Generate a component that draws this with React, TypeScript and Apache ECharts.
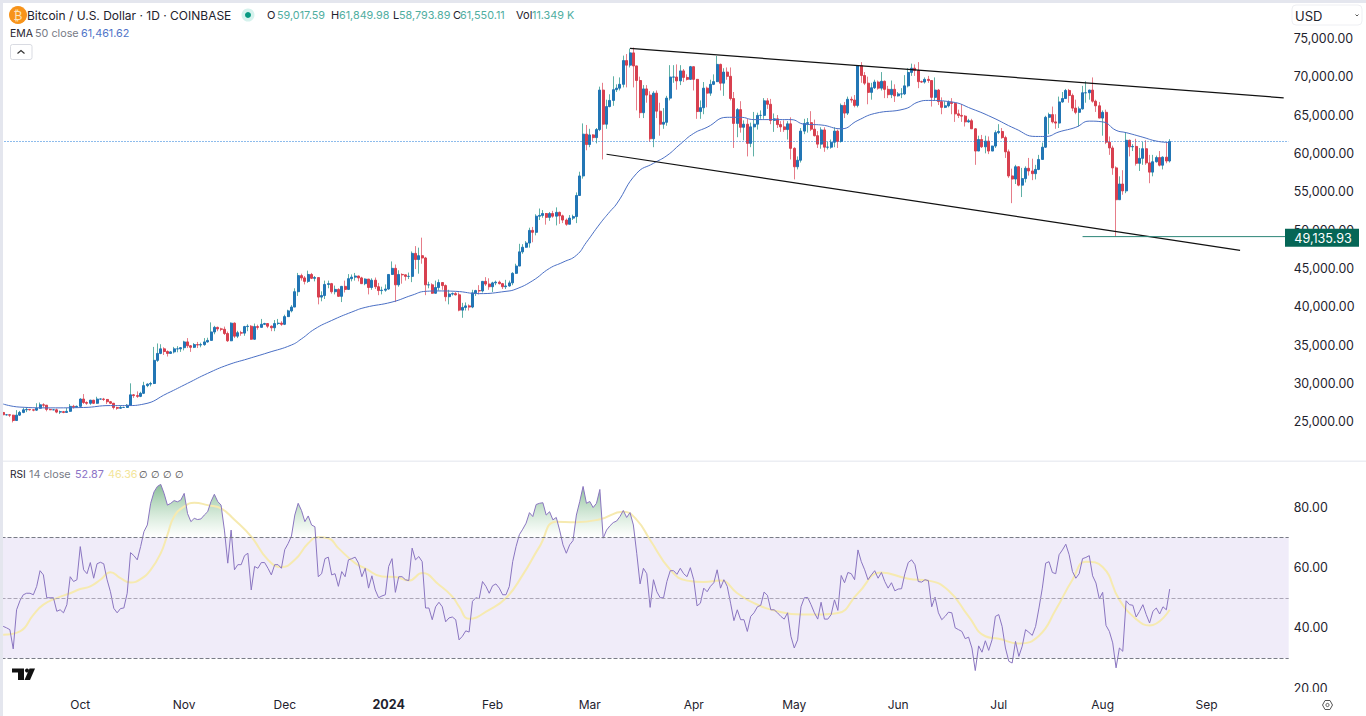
import React, { useEffect, useRef } from "react";
import * as echarts from "echarts";

const FIRST_DAY = Date.UTC(2023, 8, 8);
const DAY_COUNT = 384;
const firstOpen = 26.2;

// Daily closes, in thousands of USD, Sep 8 2023 .. Aug 21 2024
const closes = [
  25.9,25.9,25.85,25.15,25.85,26.2,26.55,26.6,26.55,26.5,26.75,27.2,27.15,26.6,26.55,26.55,26.25,26.3,26.2,26.35,27.0,26.9,27.0,
  27.95,27.5,27.4,27.8,27.4,27.95,27.95,27.9,27.6,27.4,26.85,26.75,26.85,26.85,27.15,28.5,28.4,28.3,28.7,29.7,29.9,29.98,33.0,33.9,34.5,34.15,33.9,34.1,34.5,34.5,34.65,
  35.4,34.9,34.7,35.05,35.0,35.05,35.4,35.6,36.7,37.3,37.1,37.05,36.5,35.55,37.85,36.15,36.6,36.55,37.4,37.45,35.75,37.4,37.3,37.7,37.8,37.45,37.25,37.8,37.85,37.7,
  38.7,39.45,39.95,41.95,44.05,43.75,43.3,44.2,43.7,43.8,41.25,41.45,42.9,43.0,41.95,42.25,41.35,42.65,42.25,43.65,43.85,44.0,43.75,43.0,43.6,42.5,43.45,42.6,42.1,42.15,42.3,
  44.2,45.0,42.85,44.2,44.15,43.95,43.95,46.95,46.15,46.65,46.35,42.85,42.85,41.75,42.5,43.15,42.75,41.3,41.65,41.7,41.55,39.55,39.9,40.1,39.95,41.8,42.1,42.05,43.3,42.95,42.6,
  43.1,43.2,43.0,42.6,42.7,43.1,44.35,45.3,47.15,47.75,48.3,49.95,49.7,51.8,51.9,52.15,51.65,52.15,51.8,52.3,51.85,51.3,50.75,51.55,51.75,54.5,57.05,62.5,61.15,
  62.4,62.05,63.1,68.25,63.8,66.1,66.9,68.3,68.5,69.0,72.1,71.5,73.1,71.4,69.5,65.3,68.4,67.6,61.9,67.85,65.5,63.8,64.05,67.2,69.95,69.95,69.45,70.75,69.9,69.65,71.3,
  69.65,65.45,65.95,68.5,67.85,69.0,69.35,71.6,69.15,70.6,70.05,67.15,63.9,65.7,63.4,63.8,61.3,63.45,63.8,64.95,64.95,66.85,66.4,64.3,64.5,63.75,63.45,63.1,63.85,60.65,
  58.25,59.1,62.9,63.9,64.0,63.15,62.3,61.2,63.05,60.8,60.8,61.45,62.9,61.55,66.25,65.25,67.05,66.95,66.25,71.45,70.15,69.15,67.95,68.55,69.3,68.5,69.4,68.35,67.65,68.35,67.5,
  67.75,67.75,68.8,70.55,71.1,70.8,69.35,69.3,69.65,69.5,67.3,68.25,66.75,66.0,66.2,66.65,66.5,65.15,64.95,64.85,64.1,64.25,63.2,60.3,61.8,60.85,61.6,60.3,60.95,62.7,
  62.85,62.05,60.2,57.05,56.65,58.25,55.85,56.7,58.05,57.7,57.35,57.9,59.2,60.8,64.7,65.05,64.1,63.95,66.7,67.15,68.2,67.55,65.9,65.35,65.8,67.9,67.9,68.25,66.8,66.2,64.6,
  65.35,61.45,60.7,58.1,53.95,56.0,55.1,61.7,60.85,60.9,58.7,59.35,60.6,58.75,57.55,58.9,59.45,58.45,59.5,59.0,61.55,
];
const highs = [
  26.45,25.95,25.95,25.9,26.5,26.4,26.8,26.85,26.65,26.6,27.4,27.5,27.4,27.15,26.7,26.65,26.7,26.45,26.4,26.8,27.3,27.2,27.1,
  28.05,28.6,27.65,27.85,27.85,28.25,28.0,28.1,27.95,27.7,27.45,26.95,27.1,26.95,27.3,30.0,28.6,28.95,28.9,30.2,30.0,30.2,34.75,35.2,35.1,34.7,34.3,34.2,34.75,34.85,34.7,
  35.55,35.9,35.0,35.25,35.4,35.3,35.9,35.95,37.95,37.5,37.4,37.25,37.4,36.75,37.95,37.95,36.85,36.85,37.5,37.7,37.6,37.8,37.65,38.4,37.9,37.8,37.55,38.25,38.4,38.1,
  38.95,39.6,40.2,42.4,44.4,44.3,44.0,44.7,44.4,44.0,43.8,42.0,43.4,43.4,43.1,42.75,42.4,42.7,43.4,44.25,44.2,44.4,44.05,43.9,43.7,43.6,43.7,43.8,43.1,42.6,42.9,
  44.2,45.9,45.5,44.75,44.35,44.2,44.45,47.2,47.9,47.7,49.0,46.5,43.25,43.05,43.4,43.55,43.2,42.9,42.2,41.85,41.9,41.85,40.5,40.55,40.3,42.2,42.2,42.8,43.3,43.85,43.7,
  43.25,43.4,43.4,43.1,43.5,43.4,44.5,45.6,48.2,48.15,48.55,50.3,50.4,52.05,52.8,52.6,52.2,52.35,52.5,52.95,52.4,52.0,51.5,51.95,52.0,54.9,57.6,63.9,63.7,
  63.2,62.5,63.3,68.7,69.2,67.0,67.7,70.05,69.0,69.9,72.75,72.95,73.65,73.8,71.4,70.0,68.9,68.9,68.1,68.1,68.2,66.6,65.9,67.5,71.5,71.5,71.6,71.5,71.0,70.3,71.4,
  71.3,69.7,66.9,69.3,68.7,69.6,70.3,72.7,71.7,71.1,71.2,71.2,68.0,65.9,66.8,64.3,64.5,64.0,65.4,65.3,65.6,67.2,67.2,67.1,65.2,65.0,64.2,64.3,64.2,64.7,
  60.8,59.6,63.3,64.5,64.6,65.5,64.4,62.9,63.4,63.4,61.5,61.8,63.4,63.1,66.5,66.7,67.4,67.4,67.6,71.5,71.9,70.6,70.0,69.2,69.6,69.5,70.6,69.5,68.8,69.5,69.0,
  68.0,68.5,70.2,71.1,71.7,71.6,71.9,69.5,69.9,70.1,69.5,69.9,68.4,67.3,66.8,66.9,67.2,66.6,65.7,66.4,65.0,64.5,64.5,63.3,62.3,62.4,62.3,62.2,61.0,63.0,
  63.8,63.3,62.3,60.5,58.0,58.5,58.3,58.1,58.3,59.4,59.3,58.5,59.8,61.4,64.9,65.3,66.1,65.1,67.4,68.0,68.4,68.4,67.8,67.0,66.1,68.8,69.4,68.3,69.9,67.0,66.7,
  65.6,65.7,62.2,61.0,58.3,57.0,57.8,62.7,61.8,61.2,61.9,60.7,61.5,61.7,59.8,59.8,59.7,60.3,59.6,61.4,61.85,
];
const lows = [
  25.65,25.8,25.6,24.9,25.1,25.75,26.1,26.25,26.45,26.35,26.4,26.7,26.85,26.35,26.5,26.5,26.1,26.0,26.1,26.15,26.3,26.7,26.85,
  26.95,27.3,27.2,27.2,27.3,27.35,27.9,27.7,27.3,27.3,26.6,26.55,26.7,26.8,26.85,27.1,28.1,28.1,28.2,28.6,29.5,29.6,29.9,32.8,33.8,33.7,33.5,33.85,33.9,34.05,34.1,
  34.3,34.6,34.1,34.6,34.6,34.7,34.9,35.3,35.6,36.4,36.8,36.8,36.3,35.4,35.5,35.9,35.9,36.2,36.2,36.8,35.7,35.7,37.0,37.6,37.6,37.2,36.8,36.8,37.6,37.5,
  37.6,38.65,39.25,39.95,41.4,43.4,42.9,43.1,43.6,43.3,40.3,40.7,41.0,42.4,41.7,41.6,41.3,40.6,41.85,42.2,43.3,43.4,43.3,43.0,42.8,41.6,42.2,42.3,41.5,41.6,41.95,
  42.2,44.2,40.6,42.6,43.0,43.4,43.6,43.2,44.9,44.3,45.6,41.5,42.4,41.7,41.7,42.1,42.2,40.7,40.3,41.45,41.45,39.4,38.55,39.5,39.5,39.8,41.4,41.6,41.85,42.7,42.2,
  41.9,42.8,42.9,42.3,42.3,42.6,42.8,44.3,45.3,46.9,47.7,47.7,48.4,49.3,51.3,51.6,50.7,51.2,51.6,50.6,50.8,50.9,50.55,50.95,51.3,50.9,54.5,56.7,60.4,
  60.8,61.6,61.3,62.9,59.2,63.2,66.0,66.2,68.0,68.2,68.6,68.6,71.2,68.6,65.6,64.6,64.6,66.6,61.5,60.8,64.6,62.3,63.2,63.6,66.9,69.2,68.3,68.9,69.3,69.5,69.6,
  68.2,64.5,64.5,65.1,66.0,67.5,68.9,69.3,68.2,67.5,69.6,66.9,60.7,62.1,62.7,61.7,59.6,60.8,59.6,63.1,64.5,64.5,65.8,63.8,62.8,63.3,62.8,62.8,61.8,59.2,
  56.6,57.9,58.8,62.5,62.7,62.9,62.2,60.7,60.6,60.2,60.5,60.6,60.8,60.7,61.4,64.6,65.0,66.6,66.0,66.0,69.2,68.9,66.4,67.0,68.4,68.3,68.2,67.2,67.2,67.2,66.7,
  67.4,67.2,67.6,68.6,70.1,70.1,68.5,69.2,69.1,69.2,66.1,66.9,66.3,65.1,65.9,66.0,65.1,64.1,64.6,64.1,63.5,64.0,63.2,58.5,60.7,60.7,60.0,59.9,60.3,60.7,
  62.5,61.9,59.4,56.8,53.5,56.0,55.7,54.3,56.2,57.1,56.5,56.6,57.8,59.4,60.7,62.5,63.9,63.2,63.3,66.6,67.4,66.6,65.5,65.1,63.5,65.7,66.6,67.0,66.6,65.4,64.6,
  62.3,61.2,59.8,57.2,49.136,54.0,54.6,54.8,59.6,60.3,58.4,57.7,58.5,58.5,56.1,57.0,58.8,58.3,57.9,58.7,58.8,
];

// EMA 50 line: day index and value in thousands
const emaDays = [0,5,14,24,32,37,42,49,55,61,67,73,79,86,89,93,98,104,108,116,122,126,130,135,142,150,153,158,163,167,171,174,178,181,183,189,194,198,202,206,210,216,220,224,230,235,239,244,250,255,260,269,273,276,283,289,295,302,308,311,315,320,324,328,332,335,340,344,348];
const emaValues = [27.3,26.9,26.8,26.85,27.1,27.1,27.3,28.7,30,31.3,32.4,33.2,34,35,35.8,37.1,38.2,39.3,39.9,40.6,41.5,42,42.05,42,41.7,42,42.3,43.4,45,45.8,46.7,48.4,50.8,52.4,53.4,57.4,58.7,59.7,61.2,62.6,63.4,64.7,64.7,64.4,64.4,64.4,63.8,63.7,63.2,64.3,65.2,65.8,66.7,66.9,66.7,65.8,64.7,63.2,62.2,62.2,62.8,63.4,64.2,64.1,63,62.7,62.1,61.6,61.4];

// RSI 14, one value a day
const rsiValues = [
  40.5,40,39.4,33,46,49,51,51.5,51.5,51,53.8,59,57.6,50,50,50,45.5,46,45,47.7,57,55.4,56,67,59.3,58,61.7,56.5,61.3,61.8,61.3,56,52,46.5,45,46.4,46.6,51.5,65,64,
  62.6,67,72,74.2,81.4,85.2,87,87.7,84.7,80.8,81.4,82.3,81.9,82.5,84.7,78,75.3,76.4,76,76.2,77.5,78.6,82,84.4,82,80.8,72.5,61.5,72.5,59.3,61,61,64,64.8,52.6,60.4,59.8,61.7,61.7,59.8,
  57.6,61,61,59.8,66,68,70.5,77.5,81.4,79,75.3,77.2,74.2,73.6,57,58,63,63.5,57.6,58,53.8,58.7,57,62.6,63,63.5,61.5,57,59.8,53.2,57.3,52.6,50,50.6,51,60.4,63,51.8,57,57,
  56,55.7,66.5,62.6,63.7,62,46.6,46.6,42.7,47,48.5,47,42,43.3,43.6,42.7,36,37.2,39,38.6,48.8,50,49.7,55.4,53.8,51.5,54,54.6,53.2,51,51,53.8,62,67,71,72.8,74.8,78.3,77,81,
  81.4,81.6,77.5,78.6,75.9,76.7,72.5,67.6,64.8,67.6,69,77.5,82,87,81.4,82,80,81.4,86,69.8,72.5,73.9,75,75.5,77,79,76.7,78.3,74.2,64.8,54.6,59.8,58,46.8,56,52,50,50,55.4,59,
  59,57.8,59.8,58,57,60,56,47.3,48.2,53.2,52,53.8,55,59.3,53.2,56,53.8,48.2,42.4,46,42.7,42.7,38.8,43.8,45,47,47.5,51.9,50.8,46,46,45,43.8,42.9,45,37.2,33.3,36,47,50,
  50.1,47.7,45,42.9,48.5,42.9,42.9,44.4,49.3,45.8,57.4,55,58.4,58,56,65.9,62,59.3,56,57.6,59,56.5,58.4,55.4,53.2,55,52.3,52.9,53,58,61.7,62.6,61,55.4,55.2,56,55.7,47,50.2,45,
  42.7,43.8,45.2,45,40,39.4,38.8,36.4,36.9,33.3,25.8,34,31.9,35.7,32.5,36,43.8,44.4,40.5,33.3,28.9,28.3,35.5,30.5,33.9,39.4,38.5,37.5,40.5,46.6,53.2,61.5,62,58.4,58,64.3,65.9,67.8,64.3,58.7,
  56.5,58,63,63.4,64,57.3,54.9,49.6,51.8,40.8,38.8,35,26.7,33.3,32.2,49,47.7,47.5,43.6,45.5,47.7,44.4,41.6,45.5,46.6,44.6,47,46,52.9,
];

// RSI-based moving average: day index and value
const rsiMaDays = [0,5,9,12,16,20,23,26,29,32,35,38,41,44,47,49,51,54,57,61,65,69,74,79,83,87,91,94,97,100,105,108,113,117,121,125,130,134,136,139,145,150,155,160,165,171,178,185,189,193,199,204,209,214,219,224,231,238,243,249,255,262,270,276,282,288,293,297,303,309,314,319,323,328,333,338,342,348];
const rsiMaValues = [37.7,38.8,44.3,47.7,49.9,51.5,52.9,53.8,56,58.5,56.5,55.1,56.2,59.3,64.8,70.9,77,80.3,81.6,80.8,79.7,75.9,70.3,62.6,60.2,62.6,68.1,70.1,69.8,66.5,61.5,59.8,57.1,56.9,55.7,58.2,54.3,50.4,47.1,43,46,49.9,57.6,67,75.3,75.1,76.1,78.6,75.9,69.2,59.3,55.7,55.2,55.7,51.5,48.2,45.5,44.4,44.4,44.9,51.5,58.4,56.3,55.7,52.4,43.8,37.2,36.4,34.8,37.4,46,56,62,60.2,49.3,42.9,40.8,46];

const monthTicks: Record<string, string> = {
  "2023-10-01": "Oct", "2023-11-01": "Nov", "2023-12-01": "Dec", "2024-01-01": "2024",
  "2024-02-01": "Feb", "2024-03-01": "Mar", "2024-04-01": "Apr", "2024-05-01": "May",
  "2024-06-01": "Jun", "2024-07-01": "Jul", "2024-08-01": "Aug", "2024-09-01": "Sep",
};

const lastPrice = 61550.11;
const markedLow = 49135.93;
const upperChannel: [number, number][] = [[187, 73700], [382, 67240]];
const lowerChannel: [number, number][] = [[180, 59880], [369, 47350]];
const lowLine: [number, number][] = [[322, markedLow], [383, markedLow]];

const titleText = "Bitcoin / U.S. Dollar · 1D · COINBASE";
const ohlcLabels = ["O", "H", "L", "C", "Vol"];
const ohlcValues = ["59,017.59", "61,849.98", "58,793.89", "61,550.11", "11.349"];

const FONT = "Inter, 'Liberation Sans', Arial, sans-serif";
const INK = "#1e222d";
const GREY = "#787b86";
const TEAL = "#4fae9f";
const UP_BODY = "#2276b5";
const DOWN_BODY = "#d8404f";
const UP_WICK = "#5fb0a6";
const DOWN_WICK = "#e67d89";

function txt(x: number, y: number, text: string, fill: string, fontSize = 12, extra: any = {}) {
  return {
    type: "text", x, y, z: 200, silent: true,
    style: { text, fill, fontSize, fontFamily: FONT, verticalAlign: "middle", ...extra },
  };
}

function buildOption() {
  const dates: string[] = [];
  for (let i = 0; i < DAY_COUNT; i++) {
    dates.push(new Date(FIRST_DAY + i * 86400000).toISOString().slice(0, 10));
  }
  const opens = closes.map((_, i) => (i === 0 ? firstOpen : closes[i - 1]));
  const wicks = closes.map((c, i) => [opens[i] * 1000, c * 1000, lows[i] * 1000, highs[i] * 1000]);
  const bodies = closes.map((c, i) => [
    opens[i] * 1000, c * 1000, Math.min(opens[i], c) * 1000, Math.max(opens[i], c) * 1000,
  ]);
  const ema = emaDays.map((d, i) => [dates[d], emaValues[i] * 1000]);
  const rsi = rsiValues.map((v, i) => [dates[i], v]);
  const rsiMa = rsiMaDays.map((d, i) => [dates[d], rsiMaValues[i]]);
  const rsiOver = rsiValues.map((v, i) => [dates[i], Math.max(v, 70)]);
  const toLine = (pts: [number, number][]) => pts.map(([d, v]) => [dates[d], v]);

  const ohlcX = [267, 331, 393, 453, 516];
  const ohlcValX = [277, 339, 399, 460, 532];
  const graphics: any[] = [
    { type: "rect", z: 190, silent: true, shape: { x: 0, y: 0, width: 1366, height: 3 }, style: { fill: "#e4e6ee" } },
    { type: "rect", z: 190, silent: true, shape: { x: 0, y: 0, width: 3, height: 716 }, style: { fill: "#e4e6ee" } },
    { type: "rect", z: 190, silent: true, shape: { x: 3, y: 460.5, width: 1363, height: 1.5 }, style: { fill: "#eceef3" } },
    { type: "rect", z: 190, silent: true, shape: { x: 1289, y: 692, width: 77, height: 7 }, style: { fill: "#ffffff" } },

    { type: "circle", z: 200, silent: true, shape: { cx: 18, cy: 15, r: 9 }, style: { fill: "#f7931a" } },
    txt(18, 15.5, "₿", "#fde3bd", 12, { align: "center", fontFamily: "'DejaVu Sans', sans-serif" }),
    txt(27, 15, titleText, INK, 12),
    { type: "circle", z: 200, silent: true, shape: { cx: 248, cy: 15, r: 6.5 }, style: { fill: "#d5f2ed" } },
    { type: "circle", z: 201, silent: true, shape: { cx: 248, cy: 15, r: 3 }, style: { fill: "#089981" } },
    txt(567, 15, "K", TEAL, 10.8),

    txt(10, 33, "EMA", INK, 10.5),
    txt(35, 33, "50 close", GREY, 10.8),
    txt(81, 33, "61,461.62", "#4f74c8", 10.8),
    { type: "rect", z: 200, silent: true, shape: { x: 10.5, y: 44.5, width: 21.5, height: 15, r: 2 }, style: { fill: "#fff", stroke: "#d9dbe2", lineWidth: 1 } },
    { type: "polyline", z: 201, silent: true, shape: { points: [[17.5, 53.5], [21, 50.5], [24.5, 53.5]] }, style: { stroke: "#333", lineWidth: 1.2, fill: "none" } },

    { type: "rect", z: 200, silent: true, shape: { x: 1292, y: 5, width: 70, height: 20, r: 4 }, style: { fill: "#fff", stroke: "#eeeff3", lineWidth: 1 } },
    txt(1295, 15.5, "USD", INK, 13),
    { type: "polyline", z: 201, silent: true, shape: { points: [[1355.5, 14.5], [1357, 16], [1358.5, 14.5]] }, style: { stroke: "#555", lineWidth: 1, fill: "none" } },

    { type: "rect", z: 200, silent: true, shape: { x: 1285, y: 228.7, width: 74, height: 18 }, style: { fill: "#056656" } },
    txt(1323, 238, "49,135.93", "#ffffff", 12.6, { align: "center" }),

    txt(10, 474, "RSI", INK, 10.2),
    txt(29, 474, "14 close", GREY, 10.8),
    txt(75, 474, "52.87", "#8c74c6", 10.8),
    txt(108, 474, "46.36", "#f3e59b", 10.8),
    ...[143, 155, 167, 179].map((x) => txt(x, 474, "∅", "#444", 10, { align: "center", fontFamily: "'DejaVu Sans', sans-serif" })),

    { type: "polygon", z: 200, silent: true, shape: { points: [[12, 668.5], [24, 668.5], [24, 680], [18, 680], [18, 672.5], [12, 672.5]] }, style: { fill: "#111" } },
    { type: "circle", z: 200, silent: true, shape: { cx: 27, cy: 670.5, r: 2 }, style: { fill: "#111" } },
    { type: "polygon", z: 200, silent: true, shape: { points: [[29.5, 668.5], [35, 668.5], [30, 680], [24.5, 680]] }, style: { fill: "#111" } },

    { type: "polygon", z: 200, silent: true, shape: { points: [[1322.5, 705], [1325, 700.5], [1330, 700.5], [1332.5, 705], [1330, 709.5], [1325, 709.5]] }, style: { fill: "none", stroke: "#555", lineWidth: 1 } },
    { type: "circle", z: 200, silent: true, shape: { cx: 1327.5, cy: 705, r: 1.6 }, style: { fill: "none", stroke: "#555", lineWidth: 1 } },
  ];
  ohlcLabels.forEach((l, i) => {
    graphics.push(txt(ohlcX[i], 15, l, INK, 11));
    graphics.push(txt(ohlcValX[i], 15, ohlcValues[i], TEAL, 10.8));
  });

  return {
    animation: false,
    backgroundColor: "#ffffff",
    textStyle: { fontFamily: FONT },
    grid: [
      { left: 1.5, top: 0, width: 1287.2, height: 460 },
      { left: 1.5, top: 462.4, width: 1287.2, height: 225.6 },
    ],
    xAxis: [
      { type: "category", gridIndex: 0, data: dates, show: false, boundaryGap: true },
      {
        type: "category", gridIndex: 1, data: dates, boundaryGap: true,
        axisLine: { show: false }, axisTick: { show: false }, splitLine: { show: false },
        axisLabel: {
          margin: 10, fontSize: 12, fontFamily: FONT, color: INK, hideOverlap: false,
          interval: (_: number, v: string) => v in monthTicks,
          formatter: (v: string) => (monthTicks[v] === "2024" ? "{b|2024}" : monthTicks[v] || ""),
          rich: { b: { fontWeight: 700, fontSize: 12.5, fontFamily: FONT, color: INK } },
        },
      },
    ],
    yAxis: [
      {
        type: "value", gridIndex: 0, position: "right", min: 20000, max: 80000, interval: 5000,
        axisLine: { show: false }, axisTick: { show: false }, splitLine: { show: false },
        axisLabel: {
          margin: 5, fontSize: 12.4, fontFamily: FONT, color: INK, align: "left",
          formatter: (v: number) =>
            v === 20000 || v === 80000 ? "" : v.toLocaleString("en-US", { minimumFractionDigits: 2 }),
        },
      },
      {
        type: "value", gridIndex: 1, position: "right", min: 20, max: 95, interval: 20,
        axisLine: { show: false }, axisTick: { show: false }, splitLine: { show: false },
        axisLabel: {
          margin: 5, fontSize: 12.4, fontFamily: FONT, color: INK, align: "left",
          formatter: (v: number) => (v % 20 === 0 ? v.toFixed(2) : ""),
        },
      },
    ],
    graphic: { elements: graphics },
    series: [
      {
        name: "BTC wicks", type: "candlestick", xAxisIndex: 0, yAxisIndex: 0, data: wicks, barWidth: 1,
        itemStyle: { color: UP_WICK, color0: DOWN_WICK, borderColor: UP_WICK, borderColor0: DOWN_WICK, borderWidth: 1 },
        z: 3,
      },
      {
        name: "BTC/USD", type: "candlestick", xAxisIndex: 0, yAxisIndex: 0, data: bodies, barWidth: 2.5,
        itemStyle: { color: UP_BODY, color0: DOWN_BODY, borderColor: UP_BODY, borderColor0: DOWN_BODY, borderWidth: 1 },
        z: 4,
      },
      {
        name: "EMA 50", type: "line", xAxisIndex: 0, yAxisIndex: 0, data: ema, smooth: 0.5,
        showSymbol: false, lineStyle: { color: "#4a6fc4", width: 1 }, z: 5,
        markLine: {
          silent: true, symbol: "none", label: { show: false }, precision: 2,
          lineStyle: { color: "#1c78d8", type: [1, 2], width: 1 },
          data: [{ yAxis: lastPrice }],
        },
      },
      { name: "Upper channel", type: "line", xAxisIndex: 0, yAxisIndex: 0, data: toLine(upperChannel), showSymbol: false, lineStyle: { color: "#111", width: 1.2 }, z: 6 },
      { name: "Lower channel", type: "line", xAxisIndex: 0, yAxisIndex: 0, data: toLine(lowerChannel), showSymbol: false, lineStyle: { color: "#111", width: 1.2 }, z: 6 },
      { name: "Low line", type: "line", xAxisIndex: 0, yAxisIndex: 0, data: toLine(lowLine), showSymbol: false, lineStyle: { color: "#2c8578", width: 1 }, z: 6 },
      {
        name: "RSI over 70", type: "line", xAxisIndex: 1, yAxisIndex: 1, data: rsiOver, showSymbol: false,
        lineStyle: { width: 0 },
        areaStyle: {
          origin: 70,
          color: new echarts.graphic.LinearGradient(0, 483, 0, 537.5, [
            { offset: 0, color: "rgba(50,140,75,0.85)" },
            { offset: 1, color: "rgba(120,190,130,0)" },
          ], true),
        },
        z: 2,
      },
      {
        name: "RSI", type: "line", xAxisIndex: 1, yAxisIndex: 1, data: rsi, showSymbol: false,
        lineStyle: { color: "#8a75c0", width: 1 }, z: 4,
        markArea: {
          silent: true, itemStyle: { color: "#f0ecf9" },
          data: [[{ yAxis: 70 }, { yAxis: 30 }]],
        },
        markLine: {
          silent: true, symbol: "none", label: { show: false },
          lineStyle: { color: GREY, type: "dashed", width: 1 },
          data: [{ yAxis: 70 }, { yAxis: 50, lineStyle: { color: "#aba6b6", type: "dashed", width: 1 } }, { yAxis: 30 }],
        },
      },
      {
        name: "RSI MA", type: "line", xAxisIndex: 1, yAxisIndex: 1, data: rsiMa, smooth: 0.5,
        showSymbol: false, lineStyle: { color: "#f6eab0", width: 2 }, z: 3,
      },
    ],
  };
}

export default function App() {
  const ref = useRef<HTMLDivElement>(null);
  useEffect(() => {
    document.body.style.margin = "0";
    const chart = echarts.init(ref.current!, undefined, { renderer: "svg" });
    chart.setOption(buildOption() as any);
    return () => chart.dispose();
  }, []);
  return <div ref={ref} style={{ width: 1366, height: 716, overflow: "hidden" }} />;
}
